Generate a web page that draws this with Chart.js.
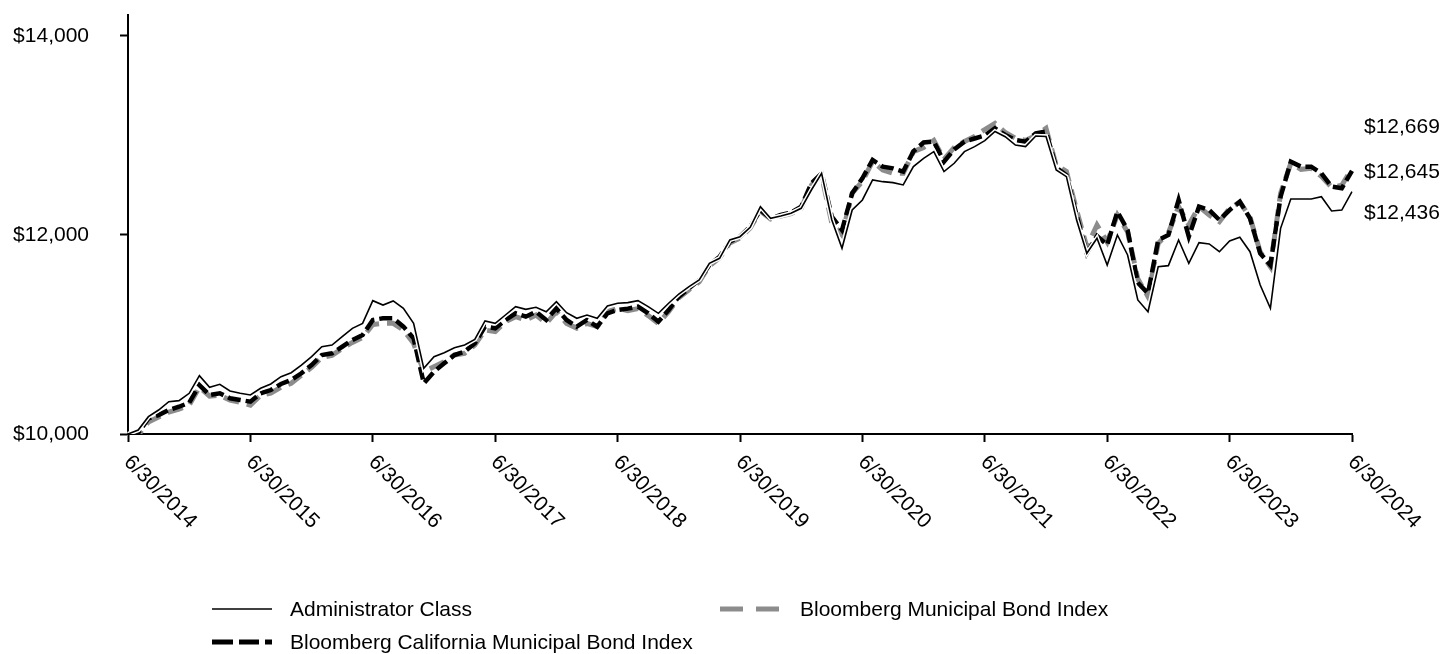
<!DOCTYPE html>
<html>
<head>
<meta charset="utf-8">
<script src="https://cdn.jsdelivr.net/npm/chart.js@4.4.1/dist/chart.umd.min.js"></script>
<style>
  html, body { margin: 0; padding: 0; background: #fff; }
  #wrap { position: relative; width: 1441px; height: 654px; }
  #wrap canvas { position: absolute; left: 0; top: 0; }
  .leg { position: absolute; display: flex; align-items: center; height: 30px;
         font-family: 'Liberation Sans', Arial, sans-serif; font-size: 21px; color: #000; white-space: nowrap; }
  .leg svg { display: block; }
</style>
</head>
<body>
<div id="wrap">
  <canvas id="c" width="1441" height="654"></canvas>
  <div class="leg" style="left:212px; top:594px;">
    <svg width="60" height="30" style="margin-right:18px"><line x1="0" y1="15" x2="60" y2="15" stroke="#000" stroke-width="1.6"/></svg>
    <span>Administrator Class</span>
  </div>
  <div class="leg" style="left:720px; top:594px;">
    <svg width="59" height="30" style="margin-right:21px"><line x1="0" y1="15" x2="59" y2="15" stroke="#8c8c8c" stroke-width="5" stroke-dasharray="23 13"/></svg>
    <span>Bloomberg Municipal Bond Index</span>
  </div>
  <div class="leg" style="left:212px; top:627px;">
    <svg width="60" height="30" style="margin-right:18px"><line x1="0" y1="15" x2="60" y2="15" stroke="#000" stroke-width="5" stroke-dasharray="21 6 20 6"/></svg>
    <span>Bloomberg California Municipal Bond Index</span>
  </div>
</div>
<script>
// ---- Data ----
const yearLabels = ['6/30/2014','6/30/2015','6/30/2016','6/30/2017','6/30/2018','6/30/2019',
                    '6/30/2020','6/30/2021','6/30/2022','6/30/2023','6/30/2024'];
const yTicks = [10000, 12000, 14000];

const adminClass = [
10000,10040,10174,10241,10325,10335,10409,10586,10469,10499,
10432,10409,10392,10459,10503,10576,10616,10693,10777,10877,
10894,10978,11062,11112,11340,11296,11337,11263,11112,10660,
10777,10817,10867,10894,10951,11136,11112,11196,11280,11253,
11273,11229,11330,11219,11163,11196,11163,11287,11314,11320,
11340,11280,11213,11314,11407,11481,11548,11716,11766,11950,
11983,12077,12285,12168,12191,12218,12268,12452,12620,12151,
11866,12251,12352,12553,12536,12526,12503,12687,12771,12838,
12637,12721,12838,12888,12948,13040,12988,12904,12888,12995,
12990,12653,12586,12150,11816,11967,11698,12000,11799,11347,
11229,11681,11692,11950,11716,11923,11910,11832,11940,11977,
11832,11497,11263,12067,12362,12362,12362,12385,12241,12251,
12436];

const californiaIndex = [
10000,10010,10157,10190,10241,10274,10315,10492,10392,10409,
10359,10342,10325,10409,10442,10503,10543,10610,10693,10794,
10811,10877,10945,10995,11146,11163,11163,11079,10962,10509,
10626,10710,10794,10827,10911,11079,11062,11146,11213,11179,
11229,11146,11263,11146,11079,11146,11079,11213,11246,11260,
11280,11213,11129,11246,11380,11464,11548,11698,11782,11933,
11983,12084,12251,12168,12201,12225,12285,12519,12620,12184,
12050,12419,12570,12754,12687,12670,12637,12840,12930,12940,
12737,12860,12938,12970,13000,13072,13005,12955,12938,13022,
13040,12680,12600,12200,11816,11990,11900,12234,12050,11520,
11414,11950,12000,12352,11983,12285,12251,12151,12251,12335,
12168,11816,11698,12385,12737,12687,12687,12620,12486,12469,
12645];

const municipalIndex = [
10000,9990,10120,10170,10220,10250,10290,10470,10380,10390,
10340,10320,10290,10390,10410,10470,10510,10590,10670,10770,
10790,10860,10920,10970,11100,11112,11112,11045,10911,10626,
10677,10727,10794,10811,10894,11045,11029,11129,11179,11146,
11196,11112,11229,11112,11062,11112,11079,11229,11263,11240,
11260,11190,11110,11230,11370,11450,11530,11690,11770,11920,
11970,12070,12240,12160,12190,12215,12270,12500,12600,12120,
12000,12420,12540,12740,12653,12620,12620,12838,12880,12950,
12760,12880,12940,12990,13060,13122,13030,12972,12950,13000,
13072,12700,12640,12250,11880,12100,11930,12200,12030,11560,
11380,11916,12020,12285,12100,12285,12200,12134,12270,12330,
12180,11830,11680,12420,12720,12660,12670,12590,12480,12500,
12669];

// month-end categories, June 2014 .. June 2024
const monthLabels = [];
for (let k = 0; k < adminClass.length; k++) {
  const m = (5 + k) % 12;
  const y = 2014 + Math.floor((5 + k) / 12);
  const d = new Date(y, m + 1, 0).getDate();
  monthLabels.push((m + 1) + '/' + d + '/' + y);
}

const FONT = "'Liberation Sans', Arial, sans-serif";
const money = v => '$' + Math.round(v).toLocaleString('en-US');

const labelsPlugin = {
  id: 'customLabels',
  afterDraw(chart) {
    const ctx = chart.ctx;
    const xs = chart.scales.x, ys = chart.scales.y;
    ctx.save();
    ctx.fillStyle = '#000';
    ctx.font = '21px ' + FONT;
    ctx.textAlign = 'left';
    ctx.textBaseline = 'middle';
    xs.ticks.forEach(t => {
      const x = xs.getPixelForValue(t.value);
      ctx.save();
      ctx.translate(x - 1, xs.top + 25);
      ctx.rotate(Math.PI / 4);
      ctx.fillText(monthLabels[t.value], 0, 0);
      ctx.restore();
    });
    const last = adminClass.length - 1;
    const ends = [
      { v: municipalIndex[last], dy: -41 },
      { v: californiaIndex[last], dy: 1 },
      { v: adminClass[last], dy: 22 }
    ];
    ends.forEach(e => {
      ctx.fillText(money(e.v), chart.chartArea.right + 12, ys.getPixelForValue(e.v) + e.dy);
    });
    ctx.restore();
  }
};

new Chart(document.getElementById('c'), {
  type: 'line',
  data: {
    labels: monthLabels,
    datasets: [
      { label: 'Administrator Class', data: adminClass, borderColor: '#000', borderWidth: 1.6,
        pointRadius: 0, fill: false, tension: 0, order: 0 },
      { label: '_casing', data: adminClass, borderColor: '#fff', borderWidth: 4.5,
        pointRadius: 0, fill: false, tension: 0, order: 1 },
      { label: 'Bloomberg California Municipal Bond Index', data: californiaIndex, borderColor: '#000',
        borderWidth: 4.5, borderDash: [13, 5], pointRadius: 0, fill: false, tension: 0, order: 2 },
      { label: 'Bloomberg Municipal Bond Index', data: municipalIndex, borderColor: '#8c8c8c',
        borderWidth: 5, borderDash: [16, 8], pointRadius: 0, fill: false, tension: 0, order: 3 }
    ]
  },
  options: {
    responsive: false,
    animation: false,
    events: [],
    layout: { padding: { top: 15, right: 89, bottom: 0, left: 0 } },
    plugins: { legend: { display: false }, tooltip: { enabled: false } },
    scales: {
      x: {
        type: 'category',
        afterBuildTicks: s => { s.ticks = s.ticks.filter(t => yearLabels.includes(monthLabels[t.value])); },
        afterFit: s => { s.height = 220; s.paddingLeft = 0; s.paddingRight = 0; },
        ticks: { autoSkip: false, maxRotation: 0, minRotation: 0, callback: () => '' },
        grid: { display: true, drawOnChartArea: false, drawTicks: true, tickLength: 8, tickWidth: 2, tickColor: '#000' },
        border: { display: true, color: '#000', width: 2 }
      },
      y: {
        min: 10000, max: 14211,
        afterBuildTicks: s => { s.ticks = yTicks.map(v => ({ value: v })); },
        afterFit: s => { s.width = 128; s.paddingTop = 0; s.paddingBottom = 0; },
        ticks: { callback: v => money(v), padding: 31, color: '#000', font: { family: FONT, size: 21 } },
        grid: { display: true, drawOnChartArea: false, drawTicks: true, tickLength: 8, tickWidth: 2, tickColor: '#000' },
        border: { display: true, color: '#000', width: 2 }
      }
    }
  },
  plugins: [labelsPlugin]
});
</script>
</body>
</html>
